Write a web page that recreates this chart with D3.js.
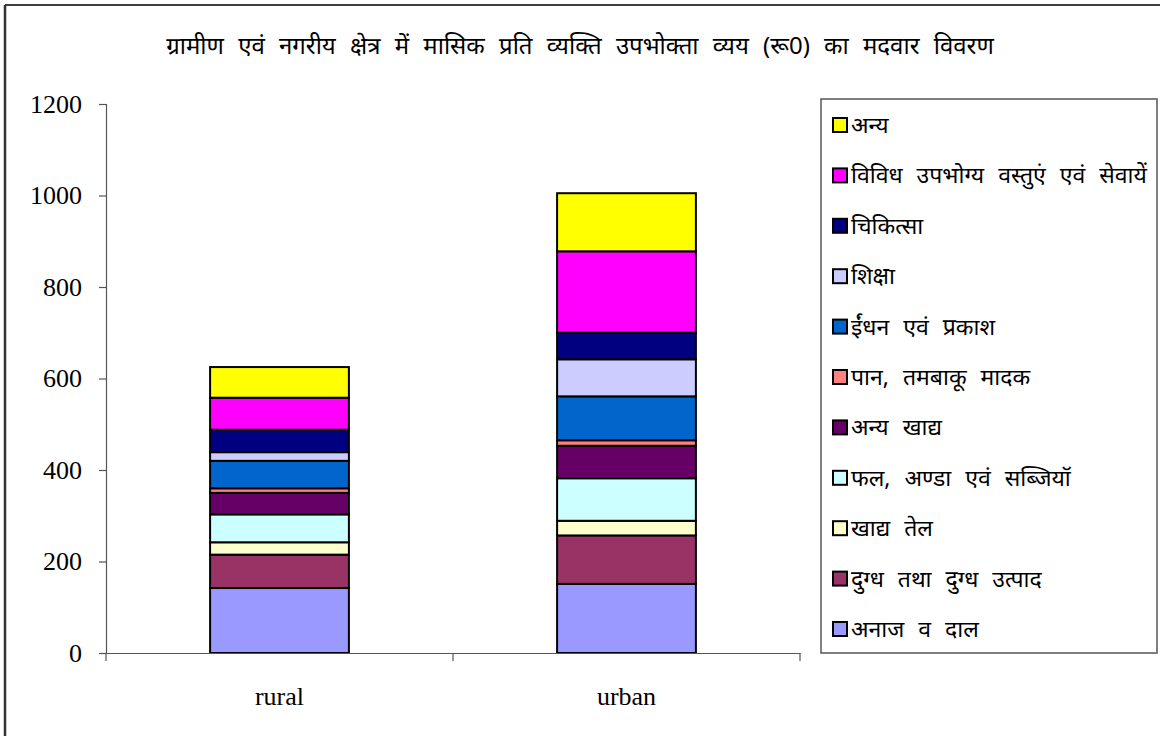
<!DOCTYPE html>
<html>
<head>
<meta charset="utf-8">
<script src="https://cdn.jsdelivr.net/npm/d3@7/dist/d3.min.js"></script>
<style>
  html, body { margin: 0; padding: 0; background: #fff; }
  svg { display: block; }
</style>
</head>
<body>
<svg id="chart" width="1160" height="736"></svg>
<script>
const categories = ["rural", "urban"];
const seriesNames = [
  "अनाज व दाल",
  "दुग्ध तथा दुग्ध उत्पाद",
  "खाद्य तेल",
  "फल, अण्डा एवं सब्जियॉ",
  "अन्य खाद्य",
  "पान, तमबाकू मादक",
  "ईंधन एवं प्रकाश",
  "शिक्षा",
  "चिकित्सा",
  "विविध उपभोग्य वस्तुएं एवं सेवायें",
  "अन्य"
];
const ruralValues = [142, 73, 27, 61, 47, 10, 60, 19, 49, 70, 67];
const urbanValues = [151, 106, 32, 93, 71, 12, 96, 81, 58, 178, 127];
const seriesColors = ["#9999ff", "#993366", "#ffffcc", "#ccffff", "#660066",
  "#ff8080", "#0066cc", "#ccccff", "#000080", "#ff00ff", "#ffff00"];
const yTicks = [0, 200, 400, 600, 800, 1000, 1200];
const titleText = "ग्रामीण एवं नगरीय क्षेत्र में मासिक प्रति व्यक्ति उपभोक्ता व्यय (रू0) का मदवार विवरण";

const svg = d3.select("#chart");
const devFont = "'Noto Sans', 'Noto Sans Devanagari', sans-serif";
const serif = "'Liberation Serif', 'Times New Roman', serif";

// outer frame (top + left visible)
svg.append("line").attr("x1", 5).attr("x2", 1160).attr("y1", 5).attr("y2", 5)
  .attr("stroke", "#000").attr("stroke-width", 1.5);
svg.append("line").attr("x1", 5).attr("x2", 5).attr("y1", 5).attr("y2", 736)
  .attr("stroke", "#333").attr("stroke-width", 2.5);

// title
svg.append("text").attr("x", 580).attr("y", 54).attr("text-anchor", "middle")
  .attr("font-family", devFont).attr("font-size", 24).attr("word-spacing", 8).attr("fill", "#000")
  .text(titleText);

const plot = { left: 106, right: 800, top: 104, bottom: 653 };

const x = d3.scaleBand().domain(categories).range([plot.left, plot.right]).paddingInner(0).paddingOuter(0);
const y = d3.scaleLinear().domain([0, 1200]).range([plot.bottom, plot.top]);

const data = categories.map((c, i) => {
  const vals = i === 0 ? ruralValues : urbanValues;
  const row = { category: c };
  seriesNames.forEach((s, j) => row[s] = vals[j]);
  return row;
});
const stack = d3.stack().keys(seriesNames);
const layers = stack(data);

const barW = x.bandwidth() * 0.4;
const g = svg.append("g");
layers.forEach((layer, li) => {
  g.selectAll(null).data(layer).enter().append("rect")
    .attr("x", d => x(d.data.category) + (x.bandwidth() - barW) / 2)
    .attr("y", d => y(d[1]))
    .attr("width", barW)
    .attr("height", d => y(d[0]) - y(d[1]))
    .attr("fill", seriesColors[li])
    .attr("stroke", "#000").attr("stroke-width", 2);
});

// Y axis
const yAxis = d3.axisLeft(y).tickValues(yTicks).tickSize(7).tickPadding(17).tickFormat(d3.format("d"));
const ya = svg.append("g").attr("transform", `translate(${plot.left},0)`).call(yAxis);
ya.select(".domain").attr("stroke", "#555").attr("stroke-width", 1.2);
ya.selectAll(".tick line").attr("stroke", "#555").attr("stroke-width", 1.2);
ya.selectAll("text").attr("font-family", serif).attr("font-size", 26).attr("fill", "#000");

// X axis
const xAxis = d3.axisBottom(x).tickSize(0).tickPadding(34);
const xa = svg.append("g").attr("transform", `translate(0,${plot.bottom})`).call(xAxis);
xa.select(".domain").attr("stroke", "#555").attr("stroke-width", 1.2);
xa.selectAll("text").attr("font-family", serif).attr("font-size", 26).attr("fill", "#000");
// category boundary ticks
const bounds = [plot.left, ...categories.map(c => x(c) + x.bandwidth())];
xa.selectAll(".bound").data(bounds).enter().append("line")
  .attr("x1", d => d).attr("x2", d => d).attr("y1", 0).attr("y2", 8)
  .attr("stroke", "#555").attr("stroke-width", 1.2);

// Legend
const lg = svg.append("g");
lg.append("rect").attr("x", 821).attr("y", 99).attr("width", 336).attr("height", 554)
  .attr("fill", "#fff").attr("stroke", "#555").attr("stroke-width", 1.5);
const legendItems = seriesNames.map((s, i) => ({ name: s, color: seriesColors[i] })).reverse();
const ly = d3.scalePoint().domain(legendItems.map(d => d.name)).range([125, 629]);
const items = lg.selectAll(".li").data(legendItems).enter().append("g")
  .attr("transform", d => `translate(833,${ly(d.name)})`);
items.append("rect").attr("x", 0).attr("y", -7).attr("width", 14).attr("height", 14)
  .attr("fill", d => d.color).attr("stroke", "#000").attr("stroke-width", 2);
items.append("text").attr("x", 18).attr("y", 8)
  .attr("font-family", devFont).attr("font-size", 23).attr("word-spacing", 8).attr("fill", "#000")
  .text(d => d.name);
</script>
</body>
</html>
